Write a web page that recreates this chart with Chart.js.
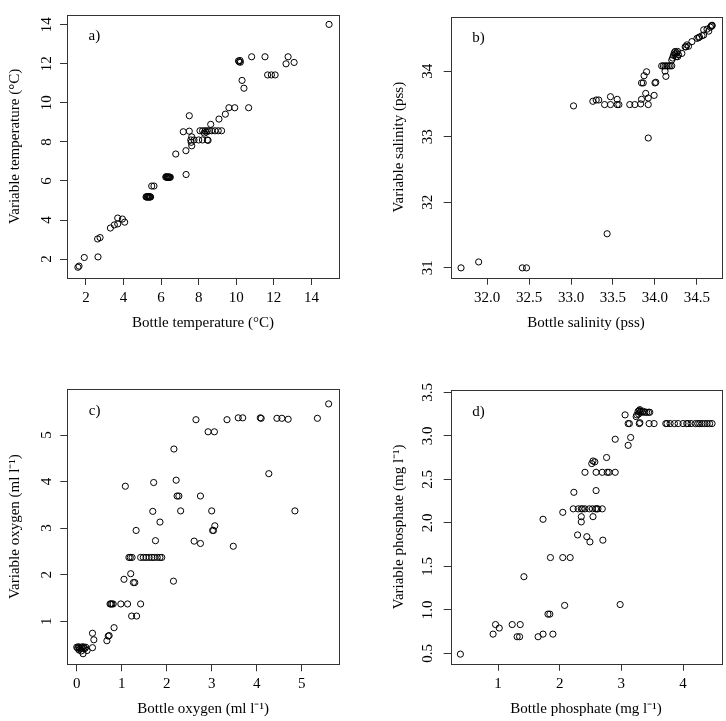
<!DOCTYPE html>
<html><head><meta charset="utf-8">
<script src="https://cdn.jsdelivr.net/npm/chart.js@4.4.1/dist/chart.umd.min.js"></script>
<style>
html,body{margin:0;padding:0;background:#fff;}
canvas{position:absolute;}
</style></head><body>
<canvas id="pa" width="363" height="360" style="left:0px;top:0px;width:363px;height:360px"></canvas>
<canvas id="pb" width="363" height="360" style="left:363px;top:0px;width:363px;height:360px"></canvas>
<canvas id="pc" width="363" height="361" style="left:0px;top:360px;width:363px;height:361px"></canvas>
<canvas id="pd" width="363" height="361" style="left:363px;top:360px;width:363px;height:361px"></canvas>
<script>
// ---- data ----
const tempBottle = [1.57,1.63,1.91,2.62,2.75,2.64,3.30,3.51,3.69,3.69,3.94,4.06,
  5.20,5.23,5.26,5.29,5.32,5.35,5.38,5.41,5.44,
  5.50,5.62,
  6.25,6.28,6.31,6.34,6.37,6.40,6.43,6.46,6.49,
  7.33,6.78,7.32,7.18,7.50,7.50,
  7.60,7.63,7.63,7.58,7.75,8.00,8.20,8.46,8.50,
  8.07,8.21,8.34,8.40,8.46,8.57,8.69,8.87,9.04,9.22,8.30,
  8.64,9.08,9.42,9.61,9.92,10.66,
  10.12,10.16,10.20,10.22,
  10.31,10.41,10.82,11.53,11.67,11.87,12.07,12.65,12.76,13.08,14.94];
const tempVariable = [1.58,1.64,2.08,3.03,3.10,2.11,3.59,3.75,3.80,4.10,4.05,3.89,
  5.18,5.20,5.17,5.19,5.18,5.20,5.17,5.19,5.18,
  5.74,5.74,
  6.20,6.22,6.18,6.21,6.19,6.20,6.18,6.20,6.19,
  6.33,7.38,7.55,8.52,8.55,9.34,
  7.98,7.80,8.26,8.10,8.10,8.10,8.10,8.10,8.08,
  8.57,8.57,8.57,8.50,8.57,8.57,8.57,8.57,8.57,8.57,8.45,
  8.90,9.17,9.42,9.75,9.75,9.75,
  12.15,12.10,12.17,12.08,
  11.15,10.75,12.36,12.36,11.43,11.43,11.43,12.00,12.36,12.07,14.02];

const salBottle = [31.69,31.90,32.42,32.47,33.43,33.92,
  33.03,33.26,33.30,33.33,33.40,33.47,33.47,33.55,33.55,33.57,
  33.70,33.76,33.83,33.84,33.89,33.92,33.92,33.99,
  33.84,33.86,33.87,33.90,34.00,34.01,
  34.08,34.10,34.12,34.14,34.16,34.18,34.20,34.12,34.13,
  34.20,34.21,34.22,34.23,34.24,34.25,34.26,34.27,34.28,34.24,34.27,
  34.32,34.36,34.37,34.38,34.40,34.44,34.50,34.52,34.53,34.56,34.58,34.58,34.62,34.64,34.66,34.67,34.68,34.68];
const salVariable = [31.00,31.09,31.00,31.00,31.52,32.98,
  33.47,33.54,33.56,33.56,33.49,33.61,33.49,33.57,33.49,33.49,
  33.49,33.49,33.50,33.57,33.66,33.59,33.49,33.63,
  33.82,33.82,33.93,33.99,33.82,33.83,
  34.08,34.08,34.08,34.08,34.08,34.08,34.08,34.00,33.92,
  34.17,34.20,34.24,34.28,34.30,34.22,34.28,34.30,34.25,34.26,34.22,
  34.27,34.37,34.37,34.40,34.38,34.45,34.50,34.51,34.52,34.54,34.55,34.63,34.64,34.61,34.67,34.69,34.69,34.70];

const oxyBottle = [0.00,0.02,0.04,0.06,0.08,0.10,0.12,0.14,0.16,0.18,0.20,0.05,0.10,0.14,0.23,0.35,
  0.35,0.38,0.67,0.70,0.72,0.83,
  0.74,0.76,0.78,0.81,0.98,1.13,1.42,
  1.22,1.33,
  1.05,1.20,1.26,1.29,2.15,
  1.16,1.19,1.23,1.42,1.48,1.54,1.61,1.67,1.72,1.79,1.85,1.89,
  1.32,1.75,1.85,1.69,1.71,1.08,
  2.16,2.21,2.23,2.27,2.75,2.31,3.00,3.07,3.02,3.04,
  2.61,2.75,3.48,4.27,4.85,
  2.65,2.92,3.06,3.34,3.59,3.69,4.08,4.10,4.45,4.56,4.70,5.35,5.60];
const oxyVariable = [0.44,0.42,0.45,0.43,0.41,0.44,0.42,0.45,0.43,0.41,0.44,0.38,0.36,0.30,0.37,0.43,
  0.74,0.60,0.58,0.68,0.69,0.86,
  1.37,1.37,1.37,1.37,1.37,1.37,1.37,
  1.11,1.11,
  1.90,2.02,1.83,1.83,1.86,
  2.37,2.37,2.37,2.37,2.37,2.37,2.37,2.37,2.37,2.37,2.37,2.37,
  2.95,2.73,3.13,3.36,3.98,3.90,
  4.70,4.03,3.69,3.69,3.69,3.37,3.37,3.05,2.95,2.95,
  2.72,2.67,2.61,4.17,3.37,
  5.33,5.07,5.07,5.33,5.37,5.37,5.37,5.36,5.36,5.36,5.34,5.36,5.67];

const phosBottle = [0.39,0.92,0.96,1.02,1.23,1.36,1.31,1.35,1.42,1.65,1.73,1.89,1.81,1.84,2.08,1.73,1.85,2.05,2.17,2.05,2.29,2.44,2.49,2.70,2.35,2.35,2.54,2.23,2.59,
  2.22,2.30,2.35,2.37,2.41,2.48,2.53,2.58,2.60,2.62,2.69,
  2.41,2.59,2.69,2.77,2.80,2.90,2.52,2.54,2.57,2.76,
  2.90,3.15,3.11,2.98,3.06,3.25,3.24,
  3.11,3.13,3.29,3.30,3.45,3.53,3.72,3.74,3.79,3.86,3.92,4.00,4.06,4.08,4.13,4.20,4.24,4.27,4.31,4.35,4.39,4.43,4.47,
  3.27,3.29,3.30,3.32,3.34,3.36,3.38,3.41,3.44,3.46,3.28,3.30];
const phosVariable = [0.49,0.72,0.83,0.79,0.83,0.83,0.69,0.69,1.38,0.69,0.72,0.72,0.95,0.95,1.05,2.04,1.60,1.60,1.60,2.12,1.86,1.84,1.78,1.80,2.01,2.07,2.07,2.35,2.37,
  2.16,2.16,2.16,2.16,2.16,2.16,2.16,2.16,2.16,2.16,2.16,
  2.58,2.58,2.58,2.58,2.58,2.58,2.68,2.71,2.70,2.75,
  2.96,2.98,2.89,1.06,3.24,3.24,3.22,
  3.14,3.14,3.14,3.15,3.14,3.14,3.14,3.14,3.14,3.14,3.14,3.14,3.14,3.14,3.14,3.14,3.14,3.14,3.14,3.14,3.14,3.14,3.14,
  3.28,3.29,3.27,3.28,3.27,3.28,3.27,3.27,3.27,3.27,3.25,3.30];

// tick labels
const tempTicks = [2,4,6,8,10,12,14];
const salXTicks = [32.0,32.5,33.0,33.5,34.0,34.5];
const salYTicks = [31,32,33,34];
const oxyXTicks = [0,1,2,3,4,5];
const oxyYTicks = [1,2,3,4,5];
const phosXTicks = [1,2,3,4];
const phosYTicks = [0.5,1.0,1.5,2.0,2.5,3.0,3.5];

// ---- drawing ----
const FONT = "'Liberation Serif','Times New Roman',Times,serif";
const AXC = '#333';

function boxPlugin(letter){
  return {
    id:'box_'+letter,
    afterDraw(chart){
      const {ctx, chartArea:a} = chart;
      ctx.save();
      ctx.strokeStyle = AXC; ctx.lineWidth = 1;
      ctx.strokeRect(Math.round(a.left)+0.5, Math.round(a.top)+0.5, Math.round(a.right-a.left), Math.round(a.bottom-a.top));
      ctx.fillStyle = '#000';
      ctx.font = '15px ' + FONT;
      ctx.textAlign = 'left'; ctx.textBaseline = 'alphabetic';
      ctx.fillText(letter, a.left + 21.5, a.top + 25.5);
      ctx.restore();
    }
  };
}

function panel(id, letter, xs, ys, c){
  const pts = xs.map((x,i)=>({x:x, y:ys[i]}));
  const tickFont = {family:FONT, size:15};
  new Chart(document.getElementById(id), {
    type:'scatter',
    data:{datasets:[{data:pts, pointStyle:'circle', pointRadius:3.1, pointHoverRadius:3.1,
      borderColor:'#000', backgroundColor:'rgba(0,0,0,0)', borderWidth:1}]},
    options:{
      responsive:false, animation:false, devicePixelRatio:1, events:[],
      layout:{padding:{left:0, top:c.padTop, right:c.padRight, bottom:0}},
      plugins:{legend:{display:false}, tooltip:{enabled:false}},
      scales:{
        x:{type:'linear', position:'bottom', min:c.xMin, max:c.xMax,
          afterFit:s=>{s.height=c.xH;},
          afterBuildTicks:s=>{s.ticks=c.xTicks.map(v=>({value:v}));},
          grid:{display:true, drawOnChartArea:false, drawTicks:true, tickLength:7, color:AXC, lineWidth:1},
          border:{display:false},
          ticks:{autoSkip:false, maxRotation:0, minRotation:0, padding:4, color:'#000', font:tickFont,
            callback:v=>Number(v).toFixed(c.xDec)},
          title:{display:true, text:c.xTitle, color:'#000', font:{family:FONT,size:15}, padding:{top:0,bottom:c.xTitlePad}}},
        y:{type:'linear', position:'left', min:c.yMin, max:c.yMax,
          afterFit:s=>{s.width=c.yW;},
          afterBuildTicks:s=>{s.ticks=c.yTicks.map(v=>({value:v}));},
          grid:{display:true, drawOnChartArea:false, drawTicks:true, tickLength:7, color:AXC, lineWidth:1},
          border:{display:false},
          ticks:{autoSkip:false, minRotation:90, maxRotation:90, crossAlign:'center', padding:c.yTickPad, color:'#000', font:tickFont,
            callback:v=>Number(v).toFixed(c.yDec)},
          title:{display:true, text:c.yTitle, color:'#000', font:{family:FONT,size:15}, padding:{top:c.yTitlePad,bottom:0}}}
      }
    },
    plugins:[boxPlugin(letter)]
  });
}

panel('pa','a)', tempBottle, tempVariable, {
  xMin:0.99, xMax:15.47, yMin:1.03, yMax:14.51, xTicks:tempTicks, yTicks:tempTicks, xDec:0, yDec:0,
  padTop:4, padRight:24, xH:82, yW:67, xTitlePad:28, yTitlePad:6, yTickPad:5.8,
  xTitle:'Bottle temperature (°C)', yTitle:'Variable temperature (°C)'});
panel('pb','b)', salBottle, salVariable, {
  xMin:31.567, xMax:34.79, yMin:30.85, yMax:34.83, xTicks:salXTicks, yTicks:salYTicks, xDec:1, yDec:0,
  padTop:4, padRight:4.7, xH:82.3, yW:87.7, xTitlePad:28.3, yTitlePad:26.7, yTickPad:7.7,
  xTitle:'Bottle salinity (pss)', yTitle:'Variable salinity (pss)'});
panel('pc','c)', oxyBottle, oxyVariable, {
  xMin:-0.21, xMax:5.83, yMin:0.073, yMax:5.99, xTicks:oxyXTicks, yTicks:oxyYTicks, xDec:0, yDec:0,
  padTop:29, padRight:24, xH:56.7, yW:67.3, xTitlePad:2.7, yTitlePad:6.3, yTickPad:9.5,
  xTitle:'Bottle oxygen (ml l\u207B\u00B9)', yTitle:'Variable oxygen (ml l\u207B\u00B9)'});
panel('pd','d)', phosBottle, phosVariable, {
  xMin:0.233, xMax:4.62, yMin:0.38, yMax:3.526, xTicks:phosXTicks, yTicks:phosYTicks, xDec:0, yDec:1,
  padTop:30, padRight:4.7, xH:57.3, yW:87.7, xTitlePad:3.3, yTitlePad:26.7, yTickPad:6.3,
  xTitle:'Bottle phosphate (mg l\u207B\u00B9)', yTitle:'Variable phosphate (mg l\u207B\u00B9)'});
</script>
</body></html>
